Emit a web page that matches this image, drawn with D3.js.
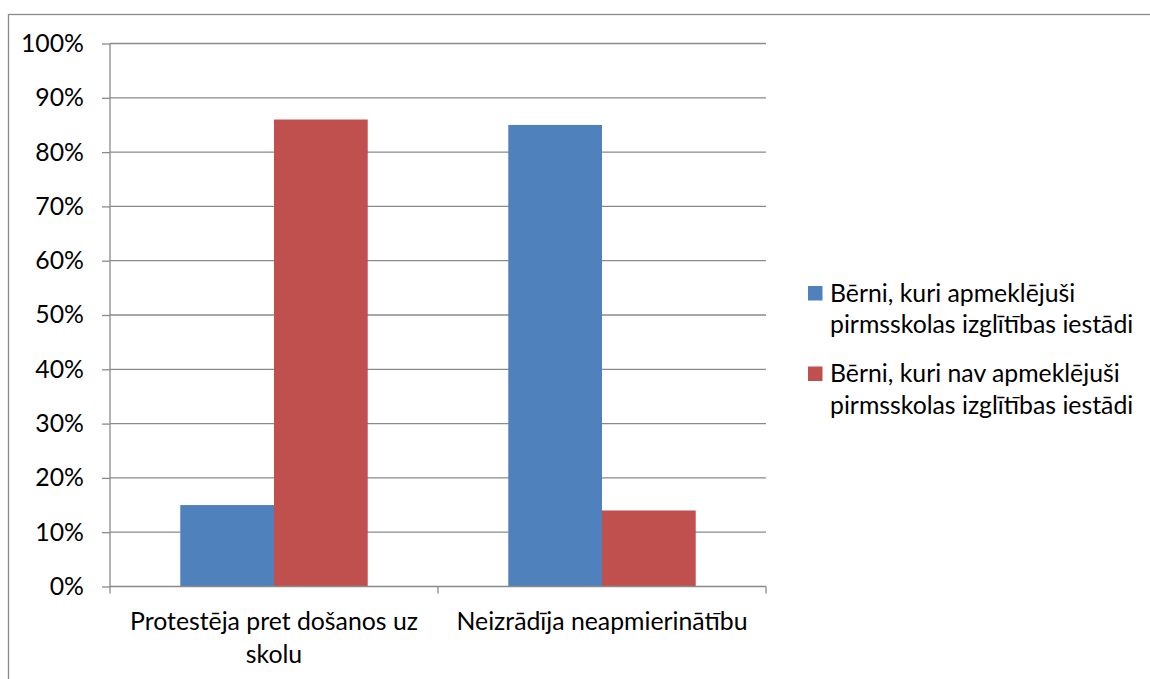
<!DOCTYPE html>
<html>
<head>
<meta charset="utf-8">
<script src="https://cdn.jsdelivr.net/npm/d3@7"></script>
<style>
  body { margin: 0; background: #fff; }
  text { font-family: Lato, "Open Sans", sans-serif; fill: #000; }
</style>
</head>
<body>
<script>
// Global variable
const w = 1150;
const h = 679;

// Data
const categories = ["Protestēja pret došanos uz skolu", "Neizrādīja neapmierinātību"];
const seriesNames = [
    "Bērni, kuri apmeklējuši pirmsskolas izglītības iestādi",
    "Bērni, kuri nav apmeklējuši pirmsskolas izglītības iestādi"
];
const attended = [0.15, 0.85];
const notAttended = [0.86, 0.14];
const seriesColors = ["#4F81BD", "#C0504D"];
const yTicks = [0, 0.1, 0.2, 0.3, 0.4, 0.5, 0.6, 0.7, 0.8, 0.9, 1.0];

const seriesValues = [attended, notAttended];
const fontSize = 24.8;
const gridColor = "#8a8a8a";

// Plot area
const plot = { left: 110, right: 766, top: 43.5, bottom: 586.5 };

//Create SVG element
let svg = d3.select("body")
            .append("svg")
                .attr("width", w)
                .attr("height", h);

// outer frame
svg.append("rect")
    .attr("x", 8.5)
    .attr("y", 14.5)
    .attr("width", 1200)
    .attr("height", 700)
    .attr("fill", "none")
    .attr("stroke", gridColor)
    .attr("stroke-width", 1.3);

let x = d3.scaleBand()
        .domain(categories)
        .range([plot.left, plot.right])
        .padding(0);

let xInner = d3.scaleBand()
        .domain(d3.range(seriesValues.length))
        .range([0, x.bandwidth()])
        .paddingInner(0)
        .paddingOuter(0.75);

let y = d3.scaleLinear()
        .domain([0, 1])
        .range([plot.bottom, plot.top]);

// gridlines
svg.append("g")
    .selectAll("line")
    .data(yTicks.filter(d => d > 0))
    .enter()
    .append("line")
    .attr("x1", plot.left)
    .attr("x2", plot.right)
    .attr("y1", d => y(d))
    .attr("y2", d => y(d))
    .attr("stroke", gridColor)
    .attr("stroke-width", 1.3);

// bars
seriesValues.forEach((vals, s) => {
    svg.append("g")
        .selectAll("rect")
        .data(vals)
        .enter()
        .append("rect")
        .attr("x", (d, i) => x(categories[i]) + xInner(s))
        .attr("y", d => y(d))
        .attr("width", xInner.bandwidth())
        .attr("height", d => y(0) - y(d))
        .attr("fill", seriesColors[s]);
});

// y axis
let yAxis = svg.append("g")
    .attr("transform", "translate(" + plot.left + ",0)")
    .call(d3.axisLeft(y)
        .tickValues(yTicks)
        .tickSize(8)
        .tickPadding(18)
        .tickFormat(d3.format(".0%")));
yAxis.selectAll("path").attr("stroke", gridColor).attr("stroke-width", 1.3)
    .attr("d", "M0," + plot.top + "V" + plot.bottom);
yAxis.selectAll("line").attr("stroke", gridColor).attr("stroke-width", 1.3);
yAxis.selectAll("text")
    .style("font-family", "Lato, sans-serif")
    .style("font-size", fontSize + "px")
    .attr("fill", "#000");

// x axis
let xAxis = svg.append("g")
    .attr("transform", "translate(0," + plot.bottom + ")");
xAxis.append("line")
    .attr("x1", plot.left).attr("x2", plot.right)
    .attr("stroke", gridColor).attr("stroke-width", 1.3);
xAxis.selectAll("line.tick")
    .data([plot.left].concat(categories.map(c => x(c) + x.bandwidth())))
    .enter()
    .append("line")
    .attr("class", "tick")
    .attr("x1", d => d).attr("x2", d => d)
    .attr("y1", 0).attr("y2", 7)
    .attr("stroke", gridColor).attr("stroke-width", 1.3);

// category labels, wrapped to the band width
function wrapWords(str, maxWidth) {
    let words = str.split(" ");
    let lines = [];
    let line = "";
    let probe = svg.append("text").style("font-size", fontSize + "px");
    words.forEach(word => {
        let test = line ? line + " " + word : word;
        probe.text(test);
        if (probe.node().getComputedTextLength() > maxWidth && line) {
            lines.push(line);
            line = word;
        } else {
            line = test;
        }
    });
    lines.push(line);
    probe.remove();
    return lines;
}

categories.forEach(c => {
    let lines = wrapWords(c, x.bandwidth() - 20);
    let t = svg.append("text")
        .attr("text-anchor", "middle")
        .style("font-size", fontSize + "px");
    lines.forEach((ln, i) => {
        t.append("tspan")
            .attr("x", x(c) + x.bandwidth() / 2)
            .attr("y", 630 + i * 33)
            .text(ln);
    });
});

// legend
const legendX = 808;
const legendY = [286, 366.5];
seriesNames.forEach((name, s) => {
    let g = svg.append("g");
    g.append("rect")
        .attr("x", legendX)
        .attr("y", legendY[s])
        .attr("width", 14.5)
        .attr("height", 14.5)
        .attr("fill", seriesColors[s]);
    let lines = wrapWords(name, 315);
    let t = g.append("text").style("font-size", fontSize + "px");
    lines.forEach((ln, i) => {
        t.append("tspan")
            .attr("x", legendX + 22)
            .attr("y", legendY[s] + 15.5 + i * 31.5)
            .text(ln);
    });
});
</script>
</body>
</html>
